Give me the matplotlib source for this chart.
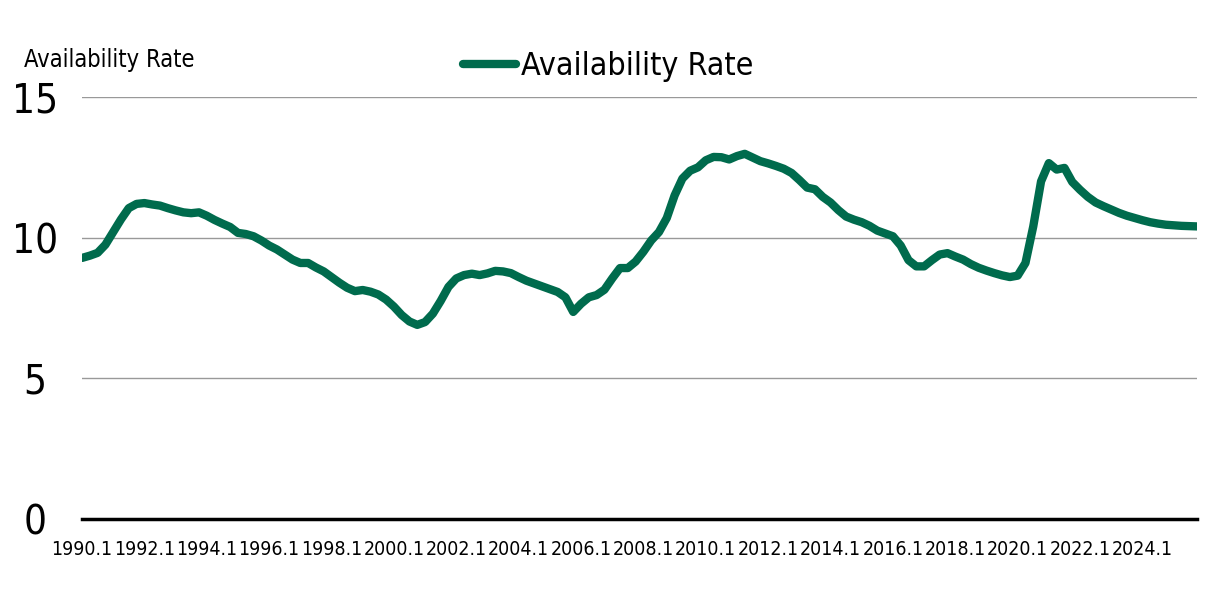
import matplotlib
matplotlib.use('Agg')
import matplotlib.pyplot as plt
import numpy as np

# Quarterly availability rate, 1990.1 - 2025.4
years = list(range(1990, 2026))
quarters = [f'{y}.{q}' for y in years for q in range(1, 5)]

rate = [
    9.28, 9.36, 9.46, 9.75, 10.2, 10.65, 11.05, 11.2,        # 1990-91
    11.23, 11.18, 11.14, 11.05, 10.97, 10.9, 10.87, 10.9,     # 1992-93
    10.78, 10.63, 10.5, 10.38, 10.17, 10.13, 10.05, 9.9,      # 1994-95
    9.72, 9.58, 9.4, 9.22, 9.1, 9.1, 8.94, 8.8,               # 1996-97
    8.6, 8.4, 8.22, 8.1, 8.14, 8.08, 7.98, 7.8,               # 1998-99
    7.55, 7.25, 7.02, 6.9, 7.0, 7.3, 7.75, 8.25,              # 2000-01
    8.55, 8.67, 8.72, 8.67, 8.73, 8.82, 8.8, 8.74,            # 2002-03
    8.6, 8.47, 8.37, 8.27, 8.17, 8.07, 7.88, 7.36,            # 2004-05
    7.65, 7.88, 7.96, 8.15, 8.55, 8.92, 8.92, 9.15,           # 2006-07
    9.5, 9.9, 10.2, 10.7, 11.5, 12.1, 12.38, 12.5,            # 2008-09
    12.75, 12.87, 12.86, 12.78, 12.9, 12.98, 12.85, 12.72,    # 2010-11
    12.64, 12.55, 12.45, 12.3, 12.05, 11.78, 11.72, 11.45,    # 2012-13
    11.25, 10.98, 10.75, 10.64, 10.55, 10.42, 10.25, 10.15,   # 2014-15
    10.05, 9.72, 9.2, 8.98, 8.98, 9.2, 9.4, 9.45,             # 2016-17
    9.33, 9.22, 9.06, 8.93, 8.83, 8.74, 8.66, 8.6,            # 2018-19
    8.65, 9.1, 10.4, 12.0, 12.65, 12.42, 12.48, 11.98,        # 2020-21
    11.7, 11.45, 11.25, 11.12, 11.0, 10.88, 10.78, 10.7,      # 2022-23
    10.62, 10.55, 10.5, 10.46, 10.44, 10.42, 10.41, 10.4,     # 2024-25
]

yticks = [0, 5, 10, 15]
GREEN = '#006B4D'

plt.rcParams['font.family'] = ['DejaVu Sans']
plt.rcParams['font.stretch'] = 'condensed'

fig = plt.figure(figsize=(12.11, 5.89), dpi=100)
ax = fig.add_axes([82 / 1211, 1 - 519 / 589, (1197 - 82) / 1211, (519 - 97) / 589])

x = np.arange(len(rate))
ax.plot(x, rate, color=GREEN, lw=6, solid_joinstyle='round', solid_capstyle='round',
        label='Availability Rate', zorder=3)

ax.set_xlim(0, len(rate) - 1)
ax.set_ylim(0, 15)
ax.set_yticks(yticks)
ax.set_yticklabels([str(v) for v in yticks], fontsize=29)
for lab in ax.get_yticklabels():
    lab.set_horizontalalignment('center')
ax.tick_params(axis='y', length=0, pad=34)

tick_pos = x[::8]
ax.set_xticks(tick_pos)
ax.set_xticklabels([quarters[i] for i in tick_pos], fontsize=14)
ax.tick_params(axis='x', length=0, pad=15)

ax.grid(axis='y', color='#999999', lw=1.0)
ax.set_axisbelow(True)
for side in ['left', 'right', 'top']:
    ax.spines[side].set_visible(False)
ax.spines['bottom'].set_linewidth(2.5)
ax.spines['bottom'].set_color('black')
ax.spines['bottom'].set_zorder(4)

fig.text(24 / 1211, 1 - 60 / 589, 'Availability Rate', fontsize=17, ha='left', va='center')

fig.legend(loc='center', bbox_to_anchor=(608 / 1211, 1 - 67 / 589), frameon=False,
           fontsize=23, handlelength=1.65, handletextpad=0.15)

fig.savefig('out.png', dpi=100)
